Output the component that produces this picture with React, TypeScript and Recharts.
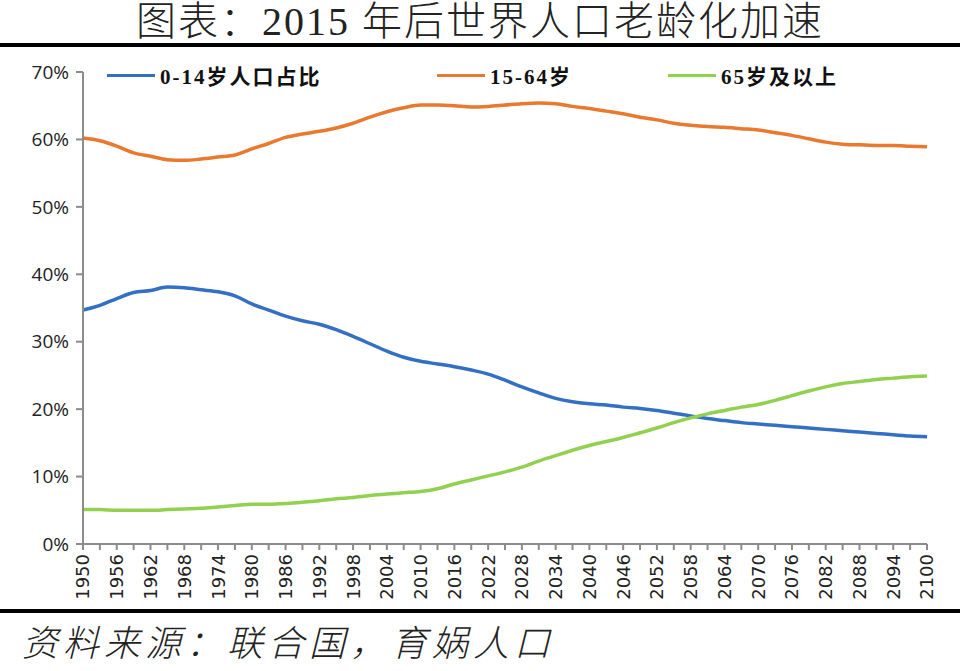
import React from "react";
import { LineChart, Line, XAxis, YAxis, Legend } from "recharts";

const years = [
  1950, 1953, 1956, 1959, 1962, 1965, 1968, 1971, 1974, 1977, 1980, 1983, 1986, 1989, 1992, 1995, 1998,
  2001, 2004, 2007, 2010, 2013, 2016, 2019, 2022, 2025, 2028, 2031, 2034, 2037, 2040, 2043, 2046, 2049,
  2052, 2055, 2058, 2061, 2064, 2067, 2070, 2073, 2076, 2079, 2082, 2085, 2088, 2091, 2094, 2097, 2100,
];

// 0-14岁
const young = [
  34.7, 35.4, 36.4, 37.3, 37.6, 38.1, 38.0, 37.7, 37.4, 36.8, 35.6, 34.7, 33.8, 33.1, 32.6, 31.8, 30.8,
  29.7, 28.6, 27.7, 27.1, 26.7, 26.3, 25.8, 25.2, 24.3, 23.3, 22.4, 21.6, 21.1, 20.8, 20.6, 20.3, 20.1,
  19.8, 19.4, 19.0, 18.6, 18.3, 18.0, 17.8, 17.6, 17.4, 17.2, 17.0, 16.8, 16.6, 16.4, 16.2, 16.0, 15.9,
];

// 15-64岁
const working = [
  60.2, 59.8, 59.0, 58.0, 57.5, 57.0, 56.9, 57.1, 57.4, 57.7, 58.6, 59.4, 60.3, 60.8, 61.2, 61.7, 62.4,
  63.3, 64.1, 64.7, 65.1, 65.1, 65.0, 64.8, 64.9, 65.1, 65.3, 65.4, 65.3, 64.9, 64.6, 64.2, 63.8, 63.3,
  62.9, 62.4, 62.1, 61.9, 61.8, 61.6, 61.4, 61.0, 60.6, 60.1, 59.6, 59.3, 59.2, 59.1, 59.1, 59.0, 58.9,
];

// 65岁及以上
const elderly = [
  5.1, 5.1, 5.0, 5.0, 5.0, 5.1, 5.2, 5.3, 5.5, 5.7, 5.9, 5.9, 6.0, 6.2, 6.4, 6.7, 6.9,
  7.2, 7.4, 7.6, 7.8, 8.2, 8.9, 9.5, 10.1, 10.7, 11.4, 12.3, 13.1, 13.9, 14.6, 15.2, 15.8, 16.5,
  17.2, 18.0, 18.7, 19.3, 19.8, 20.3, 20.7, 21.3, 22.0, 22.7, 23.3, 23.8, 24.1, 24.4, 24.6, 24.8, 24.9,
];

const yTicks = [0, 10, 20, 30, 40, 50, 60, 70];

const data = years.map((year, i) => ({
  year,
  young: young[i],
  working: working[i],
  elderly: elderly[i],
}));

const legendLeft = [107, 437, 668];

function XTick(props: any) {
  const { x, y, payload } = props;
  if ((payload.value - 1950) % 6 !== 0) return null;
  return (
    <g transform={`translate(${x},${y}) rotate(-90)`}>
      <text x={0} y={0} dy="0.36em" textAnchor="end" fill="#222" fontSize={18} fontFamily="DejaVu Sans">
        {payload.value}
      </text>
    </g>
  );
}

function LegendContent(props: any) {
  const { payload } = props;
  return (
    <div style={{ position: "relative", width: 960, height: 28 }}>
      {payload.map((item: any, i: number) => (
        <div
          key={item.value}
          style={{
            position: "absolute",
            left: legendLeft[i],
            top: 0,
            display: "flex",
            alignItems: "center",
            whiteSpace: "nowrap",
          }}
        >
          <span style={{ display: "inline-block", width: 48, height: 3, background: item.color, marginRight: 5 }} />
          <span
            style={{
              fontFamily: "'Liberation Serif', 'Noto Sans CJK SC'",
              fontWeight: "bold",
              fontSize: 21,
              letterSpacing: 2,
              color: "#111",
            }}
          >
            {item.value}
          </span>
        </div>
      ))}
    </div>
  );
}

export default function App() {
  return (
    <div style={{ position: "absolute", left: 0, top: 0, width: 960, height: 671, background: "#fff" }}>
      <div
        style={{
          position: "absolute",
          top: 0,
          left: 0,
          width: 960,
          textAlign: "center",
          fontFamily: "'Liberation Serif', 'Noto Sans CJK SC'",
          fontSize: 40,
          lineHeight: "44px",
          letterSpacing: 2,
          color: "#222",
          fontWeight: 300,
        }}
      >
        图表：2015 年后世界人口老龄化加速
      </div>
      <div style={{ position: "absolute", top: 43, left: 0, width: 960, height: 4, background: "#000" }} />
      <LineChart
        width={960}
        height={671}
        data={data}
        margin={{ top: 72, right: 33, bottom: 67, left: 0 }}
        style={{ position: "absolute", top: 0, left: 0 }}
      >
        <XAxis
          dataKey="year"
          type="number"
          domain={[1950, 2100]}
          ticks={years}
          interval={0}
          height={60}
          tick={<XTick />}
          tickSize={6}
          tickMargin={4}
          stroke="#8c8c8c"
          strokeWidth={2}
        />
        <YAxis
          width={83}
          domain={[0, 70]}
          ticks={yTicks}
          tickFormatter={(v: number) => `${v}%`}
          tick={{ fill: "#222", fontSize: 19, fontFamily: "'Open Sans'" }}
          tickSize={7}
          tickMargin={7}
          stroke="#8c8c8c"
          strokeWidth={2}
        />
        <Legend
          verticalAlign="middle"
          align="center"
          layout="horizontal"
          content={<LegendContent />}
          wrapperStyle={{ top: 60, left: 0, width: 960 }}
        />
        <Line
          dataKey="young"
          name="0-14岁人口占比"
          stroke="#3370C4"
          strokeWidth={3.5}
          dot={false}
          type="monotone"
          isAnimationActive={false}
        />
        <Line
          dataKey="working"
          name="15-64岁"
          stroke="#E8792E"
          strokeWidth={3.5}
          dot={false}
          type="monotone"
          isAnimationActive={false}
        />
        <Line
          dataKey="elderly"
          name="65岁及以上"
          stroke="#92D050"
          strokeWidth={3.5}
          dot={false}
          type="monotone"
          isAnimationActive={false}
        />
      </LineChart>
      <div style={{ position: "absolute", top: 609, left: 0, width: 960, height: 4, background: "#000" }} />
      <div
        style={{
          position: "absolute",
          top: 618,
          left: 22,
          fontFamily: "'Noto Sans CJK SC'",
          fontStyle: "italic",
          fontSize: 36,
          letterSpacing: 5,
          lineHeight: "44px",
          color: "#222",
          fontWeight: 300,
        }}
      >
        资料来源：联合国，育娲人口
      </div>
    </div>
  );
}
